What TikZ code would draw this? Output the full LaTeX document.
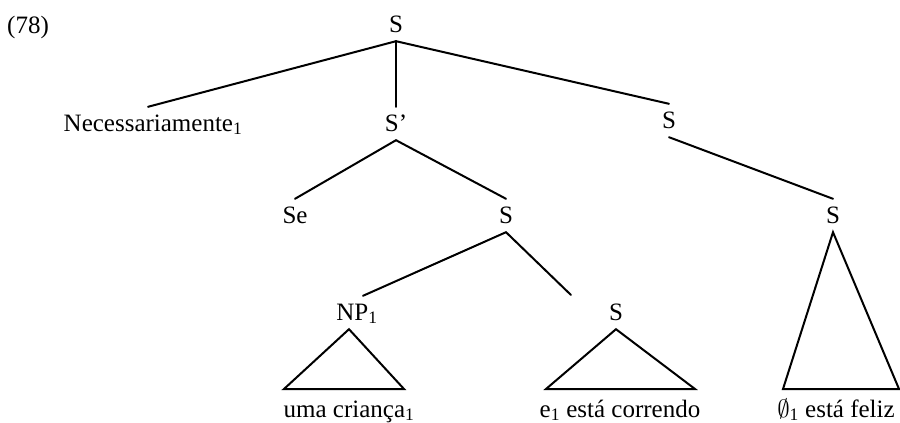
\documentclass[tikz,border=0pt]{standalone}
\usepackage{fontspec}
\setmainfont{Liberation Serif}
\begin{document}
\begin{tikzpicture}[x=1pt,y=-1pt,
  every node/.style={font=\fontsize{25}{29}\selectfont},
  lbl/.style={anchor=base,inner xsep=0pt,inner ysep=9pt,text height=15pt,text depth=0pt},
  leaf/.style={anchor=base,inner sep=0pt},
  br/.style={line width=2pt,line cap=round,line join=miter}]
\useasboundingbox (0,0) rectangle (900,423);
\node[leaf,anchor=base west] (ex) at (7,33) {(78)};
\node[lbl] (S0) at (396,32) {S};
\node[lbl] (nec) at (153,131) {Necessariamente\textsubscript{1}};
\node[lbl] (Sp) at (396,131) {S'};
\node[lbl] (SR) at (669,128) {S};
\node[lbl] (se) at (295,223) {Se};
\node[lbl] (SM) at (506,223) {S};
\node[lbl] (SRR) at (833,223) {S};
\node[lbl] (np) at (357,320) {NP\textsubscript{1}};
\node[lbl] (SE) at (616,320) {S};
\node[leaf] (l1) at (349,417) {uma criança\textsubscript{1}};
\node[leaf] (l2) at (620,417) {e\textsubscript{1} está correndo};
\node[leaf] (l3) at (836,417) {$\emptyset$\textsubscript{1} está feliz};
\coordinate (free) at (571,295);
\coordinate (t1l) at (284,389); \coordinate (t1r) at (404,389);
\coordinate (t2l) at (546,389); \coordinate (t2r) at (695,389);
\coordinate (t3l) at (783,389); \coordinate (t3r) at (899,389);
\draw[br] (S0.south) -- ([xshift=-5pt]nec.north);
\draw[br] (S0.south) -- (Sp.north);
\draw[br] (S0.south) -- (SR.north);
\draw[br] (Sp.south) -- (se.north);
\draw[br] (Sp.south) -- (SM.north);
\draw[br] (SR.south) -- (SRR.north);
\draw[br] (SM.south) -- ([xshift=6pt]np.north);
\draw[br] (SM.south) -- (free);
\draw[br] ([xshift=-8pt]np.south) -- (t1l) -- (t1r) -- cycle;
\draw[br] (SE.south) -- (t2l) -- (t2r) -- cycle;
\draw[br] (SRR.south) -- (t3l) -- (t3r) -- cycle;
\end{tikzpicture}
\end{document}
